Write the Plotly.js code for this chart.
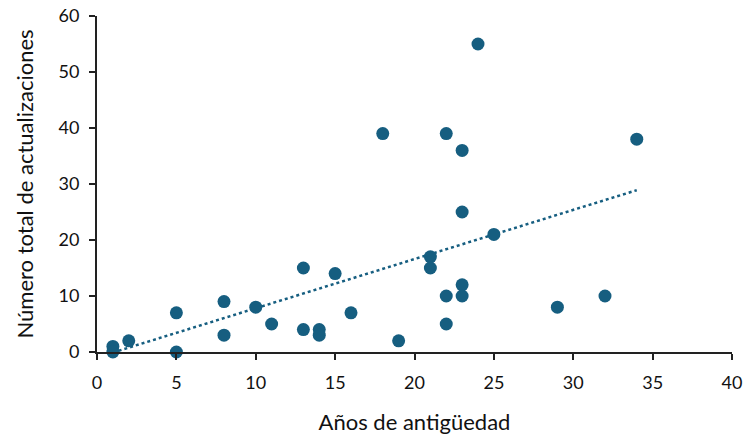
<!DOCTYPE html>
<html>
<head>
<meta charset="utf-8">
<script src="https://cdn.plot.ly/plotly-3.0.1.min.js"></script>
<style>html,body{margin:0;padding:0;background:#fff;}#chart{width:743px;height:437px;}</style>
</head>
<body>
<div id="chart"></div>
<script>
const antiguedad = [1,1,2,5,5,8,8,10,11,13,13,14,14,15,16,18,19,21,21,22,22,22,23,23,23,23,24,25,29,32,34];
const actualizaciones = [1,0,2,7,0,9,3,8,5,15,4,4,3,14,7,39,2,17,15,39,10,5,36,25,12,10,55,21,8,10,38];
const xTicks = [0,5,10,15,20,25,30,35,40];
const yTicks = [0,10,20,30,40,50,60];

// least-squares trend line from the data
const n = antiguedad.length;
const mx = antiguedad.reduce((a,b)=>a+b,0)/n;
const my = actualizaciones.reduce((a,b)=>a+b,0)/n;
let sxy=0, sxx=0;
for (let i=0;i<n;i++){ sxy+=(antiguedad[i]-mx)*(actualizaciones[i]-my); sxx+=(antiguedad[i]-mx)**2; }
const slope = sxy/sxx, intercept = my - slope*mx;
const xMin = Math.min(...antiguedad), xMax = Math.max(...antiguedad);
const trendX = [xMin, xMax];
const trendY = trendX.map(x => intercept + slope*x);

const color = '#165e80';
const font = 'Lato, "Open Sans", sans-serif';

Plotly.newPlot('chart', [
  {x: trendX, y: trendY, mode: 'lines', line: {color: color, width: 2.5, dash: 'dot'}, hoverinfo: 'skip', cliponaxis: false},
  {x: antiguedad, y: actualizaciones, mode: 'markers', marker: {color: color, size: 13}, cliponaxis: false}
], {
  width: 743, height: 437,
  margin: {l: 97, r: 11, t: 16, b: 85},
  showlegend: false,
  paper_bgcolor: '#fff', plot_bgcolor: '#fff',
  font: {family: font, color: '#111', size: 18},
  xaxis: {
    range: [0, 40], tickvals: xTicks, ticktext: xTicks.map(String),
    showgrid: false, zeroline: false, showline: true, linecolor: '#222', linewidth: 2,
    ticks: 'outside', ticklen: 6, tickwidth: 2, tickcolor: '#222', ticklabelstandoff: 7,
    tickfont: {size: 18, family: font},
    title: {text: 'Años de antigüedad', font: {size: 22, family: font}, standoff: 23}
  },
  yaxis: {
    range: [0, 60], tickvals: yTicks, ticktext: yTicks.map(String),
    showgrid: false, zeroline: false, showline: true, linecolor: '#222', linewidth: 2,
    ticks: 'outside', ticklen: 6, tickwidth: 2, tickcolor: '#222', ticklabelstandoff: 6,
    tickfont: {size: 18, family: font},
    title: {text: 'Número total de actualizaciones', font: {size: 22, family: font}, standoff: 19}
  }
}, {staticPlot: true});
</script>
</body>
</html>
